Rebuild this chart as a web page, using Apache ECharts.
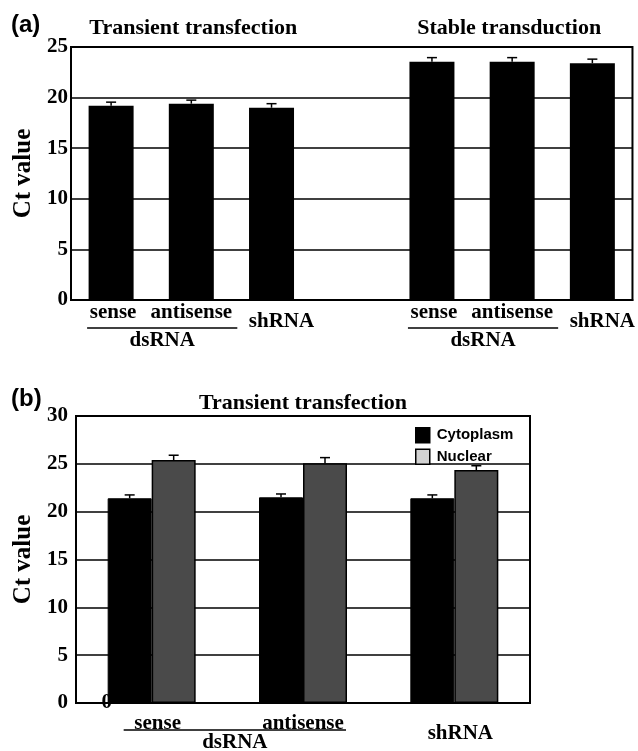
<!DOCTYPE html>
<html><head><meta charset="utf-8">
<script src="https://cdn.jsdelivr.net/npm/echarts@6/dist/echarts.min.js"></script>
<style>html,body{margin:0;padding:0;background:#fff}#c{width:638px;height:751px}</style>
</head><body><div id="c"></div>
<script>
// ---- Panel (a) data ----
const catsA = ['sense', 'antisense', 'shRNA', '', 'sense', 'antisense', 'shRNA'];
const valsA = [19.2, 19.4, 19.0, null, 23.55, 23.55, 23.4];
const errA  = [19.55, 19.75, 19.4, null, 23.95, 23.95, 23.8];
// ---- Panel (b) data ----
const catsB = ['sense', 'antisense', 'shRNA'];
const cytoB = [21.4, 21.5, 21.4];
const cytoErrB = [21.75, 21.85, 21.75];
const nucB = [25.4, 25.05, 24.35];
const nucErrB = [25.9, 25.65, 24.8];
const seriesNames = ['Cytoplasm', 'Nuclear'];
const yTicksA = [0, 25, 5];
const yTicksB = [0, 30, 5];

const serif = '"Liberation Serif", "Times New Roman", serif';
const sans = '"Liberation Sans", Arial, sans-serif';
const chart = echarts.init(document.getElementById('c'));

function errData(vals, errs) {
  return vals.map((v, i) => v == null ? null : [i, v, errs[i]]).filter(d => d);
}
function errSeries(xi, yi, data, offset) {
  return {
    type: 'custom', xAxisIndex: xi, yAxisIndex: yi, z: 5, silent: true,
    encode: { x: 0, y: [1, 2] },
    data: data,
    renderItem: function (params, api) {
      const base = api.coord([api.value(0), api.value(1)]);
      const top = api.coord([api.value(0), api.value(2)]);
      const x = base[0] + offset;
      return {
        type: 'group', children: [
          { type: 'line', shape: { x1: x, y1: base[1], x2: x, y2: top[1] }, style: { stroke: '#000', lineWidth: 1.5 } },
          { type: 'line', shape: { x1: x - 5, y1: top[1], x2: x + 5, y2: top[1] }, style: { stroke: '#000', lineWidth: 1.5 } }
        ]
      };
    }
  };
}
function xAxis(gi, cats, margin, shPad, shShift, senseShift) {
  const base = { fontFamily: serif, fontWeight: 'bold', fontSize: 21, color: '#000' };
  return {
    type: 'category', gridIndex: gi, data: cats,
    axisLine: { lineStyle: { color: '#000', width: 2 } },
    axisTick: { inside: true, length: 6, lineStyle: { color: '#000', width: 1.5 } },
    axisLabel: {
      margin: margin, interval: 0,
      formatter: v => v === 'shRNA' ? '{s|' + v + '}' : (v === 'sense' ? '{e|' + v + '}' : '{n|' + v + '}'),
      rich: {
        n: base,
        e: Object.assign({}, base, { padding: [0, 0, 0, senseShift * 2] }),
        s: Object.assign({}, base, { padding: [shPad, 0, 0, shShift * 2] })
      }
    }
  };
}
function yAxis(gi, t, margin, gap) {
  return {
    type: 'value', gridIndex: gi, min: t[0], max: t[1], interval: t[2],
    name: 'Ct value', nameLocation: 'middle', nameGap: gap,
    nameTextStyle: { fontFamily: serif, fontWeight: 'bold', fontSize: 25, color: '#000' },
    axisLine: { show: true, lineStyle: { color: '#000', width: 2 } },
    axisTick: { show: false },
    axisLabel: { fontFamily: serif, fontWeight: 'bold', fontSize: 21, color: '#000', margin: margin },
    splitLine: { lineStyle: { color: '#000', width: 1.5 } }
  };
}

const option = {
  animation: false,
  backgroundColor: '#fff',
  grid: [
    { left: 71, right: 5, top: 47, bottom: 451, show: true, borderColor: '#000', borderWidth: 2 },
    { left: 76, right: 108, top: 416, bottom: 48, show: true, borderColor: '#000', borderWidth: 2 }
  ],
  xAxis: [xAxis(0, catsA, 2, 9, 10, 2), xAxis(1, catsB, 10, 10, 6, 6)],
  yAxis: [yAxis(0, yTicksA, 3, 35), yAxis(1, yTicksB, 8, 40)],
  legend: {
    orient: 'vertical', left: 415, top: 427, padding: 0, itemWidth: 14, itemHeight: 15, itemGap: 5,
    icon: 'rect',
    textStyle: { fontFamily: sans, fontWeight: 'bold', fontSize: 15, color: '#000', padding: [0, 0, 0, 2] },
    data: [
      { name: seriesNames[0], itemStyle: { color: '#000', borderColor: '#000', borderWidth: 1.5 } },
      { name: seriesNames[1], itemStyle: { color: '#d2d2d2', borderColor: '#000', borderWidth: 1.5 } }
    ]
  },
  series: [
    { type: 'bar', xAxisIndex: 0, yAxisIndex: 0, data: valsA, barWidth: 45, itemStyle: { color: '#000' } },
    errSeries(0, 0, errData(valsA, errA), 0),
    { name: seriesNames[0], type: 'bar', xAxisIndex: 1, yAxisIndex: 1, data: cytoB, barWidth: 44, barGap: '0%',
      itemStyle: { color: '#000', borderColor: '#000', borderWidth: 1 } },
    { name: seriesNames[1], type: 'bar', xAxisIndex: 1, yAxisIndex: 1, data: nucB, barWidth: 44, barGap: '0%',
      itemStyle: { color: '#4a4a4a', borderColor: '#000', borderWidth: 1.5 } },
    errSeries(1, 1, errData(cytoB, cytoErrB), -22),
    errSeries(1, 1, errData(nucB, nucErrB), 22)
  ]
};
chart.setOption(option);

// Annotations positioned from the axes
function px(gi, cat, val) { return chart.convertToPixel({ xAxisIndex: gi, yAxisIndex: gi }, [cat, val]); }
const g = [];
const titleStyle = { fontFamily: serif, fontWeight: 'bold', fontSize: 22, fill: '#000', align: 'center', verticalAlign: 'middle' };
function groupLabel(gi, c0, c1, dl, dr, y, ly) {
  const a = px(gi, c0, 0), b = px(gi, c1, 0);
  const x1 = a[0] - dl, x2 = b[0] + dr;
  g.push({ type: 'line', shape: { x1: x1, y1: y, x2: x2, y2: y }, style: { stroke: '#000', lineWidth: 1.5 } });
  g.push({ type: 'text', x: (x1 + x2) / 2, y: ly, style: Object.assign({}, titleStyle, { text: 'dsRNA', fontSize: 21 }) });
}
groupLabel(0, 0, 1, 24, 46, 328, 341);
groupLabel(0, 4, 5, 24, 46, 328, 341);
groupLabel(1, 0, 1, 28, 43, 730, 743);
// panel titles
const tA1 = px(0, 1, 25), tA2 = px(0, 5, 25), tB = px(1, 1, 30);
g.push({ type: 'text', x: tA1[0] + 2, y: 28, style: Object.assign({}, titleStyle, { text: 'Transient transfection' }) });
g.push({ type: 'text', x: tA2[0] - 3, y: 28, style: Object.assign({}, titleStyle, { text: 'Stable transduction' }) });
g.push({ type: 'text', x: tB[0], y: 403, style: Object.assign({}, titleStyle, { text: 'Transient transfection' }) });
// panel letters
g.push({ type: 'text', x: 11, y: 25, style: { text: '(a)', fontFamily: sans, fontWeight: 'bold', fontSize: 24, fill: '#000', verticalAlign: 'middle' } });
g.push({ type: 'text', x: 11, y: 399, style: { text: '(b)', fontFamily: sans, fontWeight: 'bold', fontSize: 24, fill: '#000', verticalAlign: 'middle' } });
// stray zero label in panel (b)
const z0 = px(1, 0, 0);
g.push({ type: 'text', x: z0[0] - 45, y: z0[1], style: { text: '0', fontFamily: serif, fontWeight: 'bold', fontSize: 21, fill: '#000', align: 'center', verticalAlign: 'middle' } });
chart.setOption({ graphic: g });
</script></body></html>
